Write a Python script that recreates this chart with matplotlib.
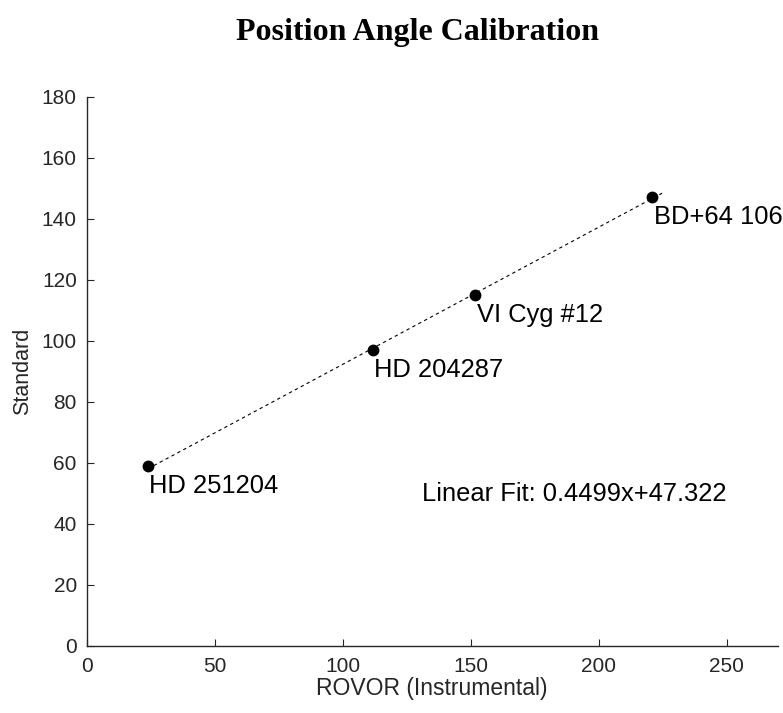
import numpy as np
import matplotlib
matplotlib.use('Agg')
import matplotlib.pyplot as plt

# Instrumental vs standard position angles
names = ['HD 251204', 'HD 204287', 'VI Cyg #12', 'BD+64 106']
rovor = np.array([24.0, 111.9, 151.8, 220.9])
standard = np.array([59.0, 97.0, 115.1, 147.2])

slope, intercept = 0.4499, 47.322
fit_x = np.array([24.0, 225.0])

plt.rcParams['font.family'] = ['Liberation Sans', 'DejaVu Sans']
axcol = '#262626'

fig = plt.figure(figsize=(7.83, 7.13), dpi=100)
ax = fig.add_axes([0.1105, 0.094, 0.883, 0.770])

ax.plot(fit_x, slope * fit_x + intercept, linestyle=(0, (3, 3)),
        color='black', linewidth=0.8)
ax.plot(rovor, standard, 'o', color='black', markersize=7.5)

for n, x, y in zip(names, rovor, standard):
    ax.annotate(n, (x, y), xytext=(1, -5.5), textcoords='offset points',
                ha='left', va='top', fontsize=18.4)

ax.text(131, 49.8, 'Linear Fit: 0.4499x+47.322', fontsize=18.4,
        ha='left', va='center')

ax.set_xlim(0, 270)
ax.set_ylim(0, 180)
ax.set_xticks(np.arange(0, 251, 50))
ax.set_yticks(np.arange(0, 181, 20))
for s in ['top', 'right']:
    ax.spines[s].set_visible(False)
for s in ['left', 'bottom']:
    ax.spines[s].set_color(axcol)
    ax.spines[s].set_linewidth(1.0)
ax.tick_params(direction='in', length=5, colors=axcol, labelsize=15,
               width=0.8)
ax.tick_params(axis='x', pad=8)
ax.tick_params(axis='y', pad=7)
ax.set_xlabel('ROVOR (Instrumental)', fontsize=16.5, color=axcol,
              labelpad=1)
ax.set_ylabel('Standard', fontsize=15.5, color=axcol, labelpad=6)

fig.suptitle('Position Angle Calibration', x=0.533, y=0.975,
             fontsize=23, fontweight='bold', family='Liberation Serif')

fig.savefig('out.png', dpi=100)
